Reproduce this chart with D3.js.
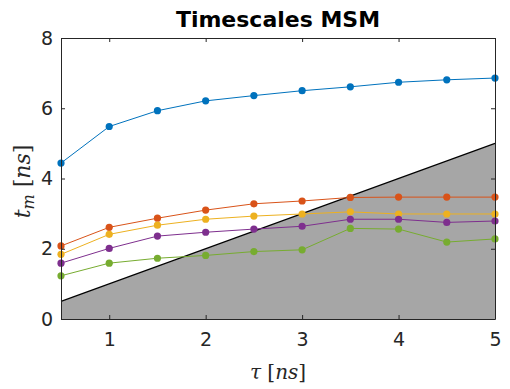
<!DOCTYPE html>
<html>
<head>
<meta charset="utf-8">
<script src="https://cdn.jsdelivr.net/npm/d3@7"></script>
<style>
  body { margin: 0; background: #fff; }
  svg text { font-family: "DejaVu Sans", sans-serif; }
</style>
</head>
<body>
<svg id="chart" width="510" height="389"></svg>
<script>
// lag times (ns)
const tau = [0.5, 1, 1.5, 2, 2.5, 3, 3.5, 4, 4.5, 5]

// implied timescales per process (ns)
const t1 = [4.44, 5.48, 5.93, 6.21, 6.36, 6.50, 6.61, 6.74, 6.81, 6.86]
const t2 = [2.08, 2.61, 2.87, 3.10, 3.28, 3.36, 3.46, 3.47, 3.47, 3.47]
const t3 = [1.84, 2.41, 2.67, 2.84, 2.93, 2.99, 3.05, 2.99, 2.99, 2.99]
const t4 = [1.59, 2.01, 2.36, 2.47, 2.56, 2.64, 2.84, 2.84, 2.75, 2.79]
const t5 = [1.23, 1.59, 1.73, 1.81, 1.92, 1.97, 2.58, 2.56, 2.19, 2.28]

const xTicks = [1, 2, 3, 4, 5]
const yTicks = [0, 2, 4, 6, 8]

const colors = ['#0072BD', '#D95319', '#EDB120', '#7E2F8E', '#77AC30']
const series = [t1, t2, t3, t4, t5]

let svg = d3.select('#chart')
const mLeft = 61, mRight = 495, mTop = 38, mBottom = 319

let x = d3.scaleLinear().domain([0.5, 5]).range([mLeft, mRight])
let y = d3.scaleLinear().domain([0, 8]).range([mBottom, mTop])

// shaded region below t = tau
svg.append('path')
    .attr('d', d3.area().x(d => x(d)).y0(y(0)).y1(d => y(d))([0.5, 5]))
    .attr('fill', '#a6a6a6')

svg.append('path')
    .attr('d', d3.line().x(d => x(d)).y(d => y(d))([0.5, 5]))
    .attr('fill', 'none')
    .attr('stroke', '#000')
    .attr('stroke-width', 1.2)

let line = d3.line().x((d, i) => x(tau[i])).y(d => y(d))

series.forEach((s, k) => {
    let g = svg.append('g')
    g.append('path')
        .attr('d', line(s))
        .attr('fill', 'none')
        .attr('stroke', colors[k])
        .attr('stroke-width', 1)
    g.selectAll('circle')
        .data(s)
        .enter()
        .append('circle')
        .attr('cx', (d, i) => x(tau[i]))
        .attr('cy', d => y(d))
        .attr('r', 3.6)
        .attr('fill', colors[k])
})

// axes box, ticks inside
const axColor = '#262626'
let axB = d3.axisBottom(x).tickValues(xTicks).tickSizeInner(-4).tickSizeOuter(0).tickPadding(13.5).tickFormat(d3.format('d'))
let axT = d3.axisTop(x).tickValues(xTicks).tickSizeInner(-4).tickSizeOuter(0).tickFormat('')
let axL = d3.axisLeft(y).tickValues(yTicks).tickSizeInner(-4).tickSizeOuter(0).tickPadding(8).tickFormat(d3.format('d'))
let axR = d3.axisRight(y).tickValues(yTicks).tickSizeInner(-4).tickSizeOuter(0).tickFormat('')

let gB = svg.append('g').attr('transform', `translate(0,${mBottom})`).call(axB)
let gT = svg.append('g').attr('transform', `translate(0,${mTop})`).call(axT)
let gL = svg.append('g').attr('transform', `translate(${mLeft},0)`).call(axL)
let gR = svg.append('g').attr('transform', `translate(${mRight},0)`).call(axR)

;[gB, gT, gL, gR].forEach(g => {
    g.selectAll('path, line').attr('stroke', axColor).attr('stroke-width', 1)
    g.selectAll('text').attr('fill', axColor).style('font-size', '19px').style('font-family', '"DejaVu Sans", sans-serif')
})

// title
svg.append('text')
    .attr('x', (mLeft + mRight) / 2)
    .attr('y', 27)
    .attr('text-anchor', 'middle')
    .style('font-size', '22px')
    .style('font-weight', 'bold')
    .attr('fill', '#000')
    .text('Timescales MSM')

// axis labels (latex-like)
const serif = '"DejaVu Serif", serif'
let xl = svg.append('text')
    .attr('x', (mLeft + mRight) / 2)
    .attr('y', 379)
    .attr('text-anchor', 'middle')
    .style('font-family', serif)
    .style('font-size', '20px')
    .attr('fill', axColor)
xl.append('tspan').style('font-style', 'italic').text('τ')
xl.append('tspan').text(' [')
xl.append('tspan').style('font-style', 'italic').text('ns')
xl.append('tspan').text(']')

let yl = svg.append('text')
    .attr('transform', `translate(30,${(mTop + mBottom) / 2 + 3}) rotate(-90)`)
    .attr('text-anchor', 'middle')
    .style('font-family', serif)
    .style('font-size', '22px')
    .attr('fill', axColor)
yl.append('tspan').style('font-style', 'italic').text('t')
yl.append('tspan').style('font-style', 'italic').style('font-size', '16px').attr('dy', 4).text('m')
yl.append('tspan').attr('dy', -4).text(' [')
yl.append('tspan').style('font-style', 'italic').text('ns')
yl.append('tspan').text(']')
</script>
</body>
</html>
